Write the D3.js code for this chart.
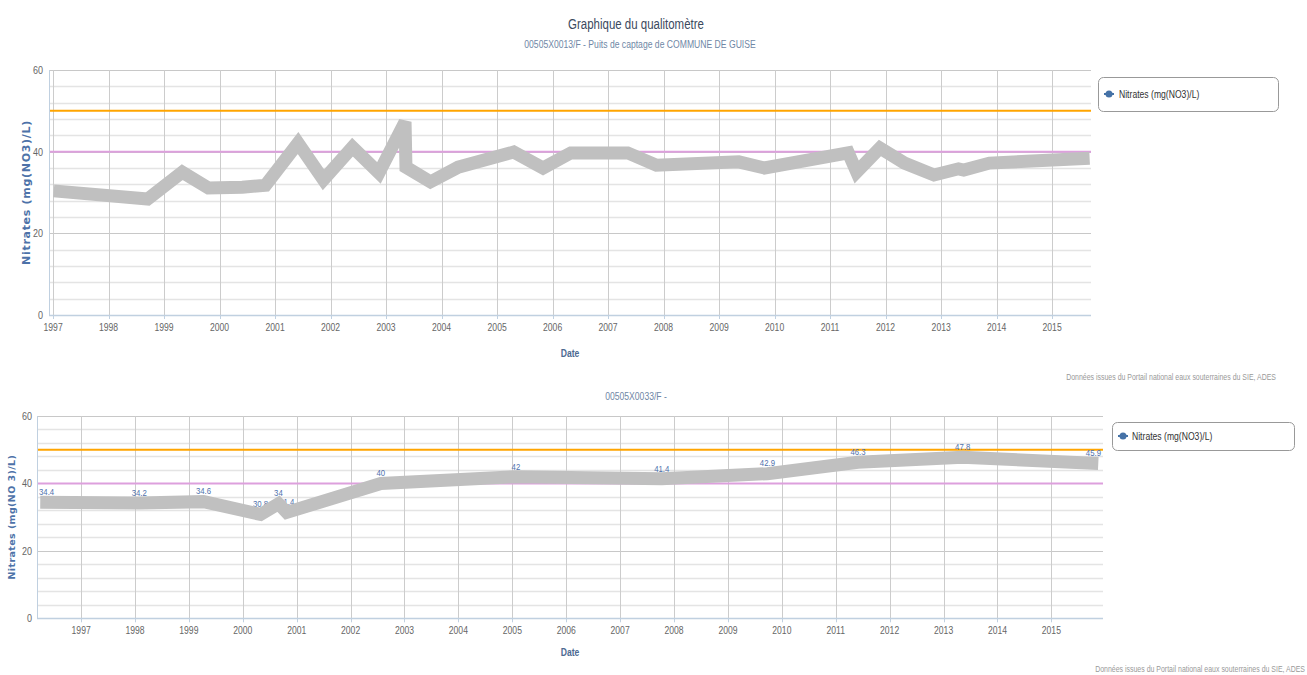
<!DOCTYPE html>
<html><head><meta charset="utf-8">
<script src="https://cdn.jsdelivr.net/npm/d3@7"></script>
<style>
html,body{margin:0;padding:0;background:#fff;}
svg{display:block;}
</style></head>
<body>
<svg id="chart" width="1307" height="675"></svg>
<script>
// ---------- DATA ----------
const mainTitle = "Graphique du qualitomètre";
const subtitle1 = "00505X0013/F - Puits de captage de COMMUNE DE GUISE";
const subtitle2 = "00505X0033/F -";
const seriesName = "Nitrates (mg(NO3)/L)";
const yTitle1 = "Nitrates (mg(NO3)/L)";
const yTitle2 = "Nitrates (mg(NO 3)/L)";
const xTitle = "Date";
const credits = "Données issues du Portail national eaux souterraines du SIE, ADES";
const yTicks = [0, 20, 40, 60];
const limitValue = 50;   // orange line
const guideValue = 40;   // plum line

const dates1 = ["1997-01-05","1998-09-15","1999-05-01","1999-10-20","2000-05-30","2000-10-30",
  "2001-06-01","2001-11-15","2002-05-25","2002-11-15","2003-05-06","2003-05-12","2003-10-20",
  "2004-04-20","2005-04-20","2005-10-30","2006-05-01","2007-05-10","2007-11-15","2009-05-10",
  "2009-10-25","2011-05-01","2011-06-25","2011-11-25","2012-05-05","2012-11-15","2013-04-25",
  "2013-05-30","2013-11-15","2015-09-05"];
const values1 = [30.4,28.4,35.0,31.1,31.3,31.8,42.1,33.1,41.1,34.8,47.3,36.2,32.6,
  36.2,39.9,36.0,39.7,39.7,36.7,37.5,36.0,39.7,35.0,40.9,37.2,34.3,35.8,35.5,37.2,38.4];

const dates2 = ["1996-03-30","1998-01-30","1999-04-10","2000-05-01","2000-08-30","2000-10-25",
  "2002-07-25","2005-01-25","2007-10-10","2009-09-25","2011-06-01","2013-05-10","2015-11-15"];
const values2 = [34.4,34.2,34.6,30.8,34,31.4,40,42,41.4,42.9,46.3,47.8,45.9];

// ---------- DRAW ----------
const SANS = '"Liberation Sans",Arial,sans-serif';
const WIDE = '"DejaVu Sans",Verdana,sans-serif';
const SX = 0.82; // narrow (condensed) rendering of Liberation Sans
const svg = d3.select("#chart");
const parse = d3.timeParse("%Y-%m-%d");

// condensed text helper: returns the text selection
function ntext(parent, x, y, str, o) {
  const g = parent.append("g").attr("transform", `translate(${x},${y}) scale(${SX},1)`);
  const t = g.append("text").attr("x", 0).attr("y", 0).attr("dy", "0.35em")
    .attr("font-family", SANS).attr("font-size", o.size)
    .attr("font-weight", o.weight || "normal")
    .attr("text-anchor", o.anchor || "start").attr("fill", o.fill).text(str);
  return t;
}

function drawChart(o) {
  const g = svg.append("g");
  const x = d3.scaleTime().domain(o.xDomain.map(parse)).range([o.left, o.right]);
  const y = d3.scaleLinear().domain([0, 60]).range([o.bottom, o.top]);
  const data = o.dates.map((d, i) => ({date: parse(d), v: o.values[i]}));

  // minor horizontal grid
  const minor = d3.range(0, 61, 4).filter(v => v % 20 !== 0);
  g.selectAll(".minor").data(minor).join("line")
    .attr("x1", o.left).attr("x2", o.right)
    .attr("y1", d => Math.round(y(d)) + 0.5).attr("y2", d => Math.round(y(d)) + 0.5)
    .attr("stroke", "#e4e4e4").attr("stroke-width", 1.5);
  // major horizontal grid
  g.selectAll(".major").data(yTicks).join("line")
    .attr("x1", o.left).attr("x2", o.right)
    .attr("y1", d => Math.round(y(d)) + 0.5).attr("y2", d => Math.round(y(d)) + 0.5)
    .attr("stroke", "#c8c8c8").attr("stroke-width", 1);
  // vertical grid
  const xt = x.ticks(d3.timeYear.every(1));
  g.selectAll(".vgrid").data(xt).join("line")
    .attr("x1", d => Math.round(x(d)) + 0.5).attr("x2", d => Math.round(x(d)) + 0.5)
    .attr("y1", o.top).attr("y2", o.bottom)
    .attr("stroke", "#cccccc").attr("stroke-width", 1);

  // plot lines
  g.append("line").attr("x1", o.left).attr("x2", o.right)
    .attr("y1", y(guideValue)).attr("y2", y(guideValue))
    .attr("stroke", "#dda0dd").attr("stroke-width", 2);
  g.append("line").attr("x1", o.left).attr("x2", o.right)
    .attr("y1", y(limitValue)).attr("y2", y(limitValue))
    .attr("stroke", "#ffa500").attr("stroke-width", 2);

  // axis lines
  g.append("line").attr("x1", o.left + 0.5).attr("x2", o.left + 0.5)
    .attr("y1", o.top).attr("y2", o.bottom).attr("stroke", "#c0d0e0");
  g.append("line").attr("x1", o.left).attr("x2", o.right)
    .attr("y1", Math.round(o.bottom) + 0.5).attr("y2", Math.round(o.bottom) + 0.5)
    .attr("stroke", "#c0d0e0").attr("stroke-width", 1.5);
  g.selectAll(".xtick").data(xt).join("line")
    .attr("x1", d => Math.round(x(d)) + 0.5).attr("x2", d => Math.round(x(d)) + 0.5)
    .attr("y1", o.bottom).attr("y2", o.bottom + 4)
    .attr("stroke", "#c0d0e0");

  // x tick labels
  xt.forEach(d => ntext(g, x(d), o.bottom + o.xLabelDy, d3.timeFormat("%Y")(d),
    {size: 10.5, anchor: "middle", fill: "#666"}));
  // y tick labels
  yTicks.forEach(d => ntext(g, o.left - o.yLabelGap, y(d), d,
    {size: 11, anchor: "end", fill: "#666"}));

  // axis titles
  g.append("text").attr("transform", `translate(${o.yTitleX},${(o.top + o.bottom) / 2}) rotate(-90)`)
    .attr("text-anchor", "middle").attr("dy", "0.35em")
    .attr("font-family", WIDE).attr("font-weight", "bold").attr("font-size", o.yTitleSize)
    .attr("letter-spacing", o.yTitleSpacing)
    .attr("fill", "#4d72a8").text(o.yTitle);
  ntext(g, o.xTitleX, o.xTitleY, xTitle, {size: 10.5, weight: "bold", anchor: "middle", fill: "#4d6a92"});

  // data labels (drawn beneath the line)
  if (o.labels) {
    data.forEach(d => {
      const t = ntext(g, 0, 0, d.v, {size: 9.5, anchor: "middle", fill: "#4f72ad"});
      const w = t.node().getComputedTextLength() * SX;
      let cx = x(d.date);
      cx = Math.max(o.left + 2 + w / 2, Math.min(o.right - 2 - w / 2, cx));
      d3.select(t.node().parentNode).attr("transform", `translate(${cx},${y(d.v) - 10.5}) scale(${SX},1)`);
    });
  }

  // series line
  const line = d3.line().x(d => x(d.date)).y(d => y(d.v));
  g.append("path").datum(data).attr("d", line)
    .attr("fill", "none").attr("stroke", "#c0c0c0").attr("stroke-width", 13)
    .attr("stroke-linejoin", "miter").attr("stroke-miterlimit", 4).attr("stroke-linecap", "butt");

  // legend
  const L = o.legend;
  g.append("rect").attr("x", L.x + 0.5).attr("y", L.y + 0.5).attr("width", L.w).attr("height", L.h)
    .attr("rx", 5).attr("fill", "#fff").attr("stroke", "#999");
  const sy = L.y + L.h / 2;
  g.append("line").attr("x1", L.x + 6).attr("x2", L.x + 16).attr("y1", sy).attr("y2", sy)
    .attr("stroke", "#4572a7").attr("stroke-width", 2);
  g.append("circle").attr("cx", L.x + 11).attr("cy", sy).attr("r", 3.5).attr("fill", "#4572a7");
  ntext(g, L.x + L.tx, sy, seriesName, {size: 10.5, fill: "#333"});

  // credits
  ntext(g, o.creditX, o.creditY, credits, {size: 8.5, anchor: "end", fill: "#999"});
}

// titles
ntext(svg, 636, 24, mainTitle, {size: 14, anchor: "middle", fill: "#3b4a5e"});
ntext(svg, 640, 44, subtitle1, {size: 10.5, anchor: "middle", fill: "#6f87a6"});
ntext(svg, 636, 396, subtitle2, {size: 10.5, anchor: "middle", fill: "#6f87a6"});

drawChart({
  dates: dates1, values: values1, labels: false,
  xDomain: ["1996-12-05", "2015-09-14"],
  left: 49, right: 1091, top: 70, bottom: 315,
  xLabelDy: 12, yLabelGap: 6, yTitleX: 26, yTitleSize: 11, yTitleSpacing: 0.7, yTitle: yTitle1,
  xTitleX: 570, xTitleY: 353,
  legend: {x: 1098, y: 77, w: 180, h: 34, tx: 21},
  creditX: 1276, creditY: 377
});
drawChart({
  dates: dates2, values: values2, labels: true,
  xDomain: ["1996-03-08", "2015-12-17"],
  left: 37, right: 1103, top: 416, bottom: 618.3,
  xLabelDy: 12, yLabelGap: 5, yTitleX: 12, yTitleSize: 9.5, yTitleSpacing: 0.4, yTitle: yTitle2,
  xTitleX: 570, xTitleY: 652,
  legend: {x: 1112, y: 422, w: 182, h: 28, tx: 20},
  creditX: 1305, creditY: 669
});
</script>
</body></html>
